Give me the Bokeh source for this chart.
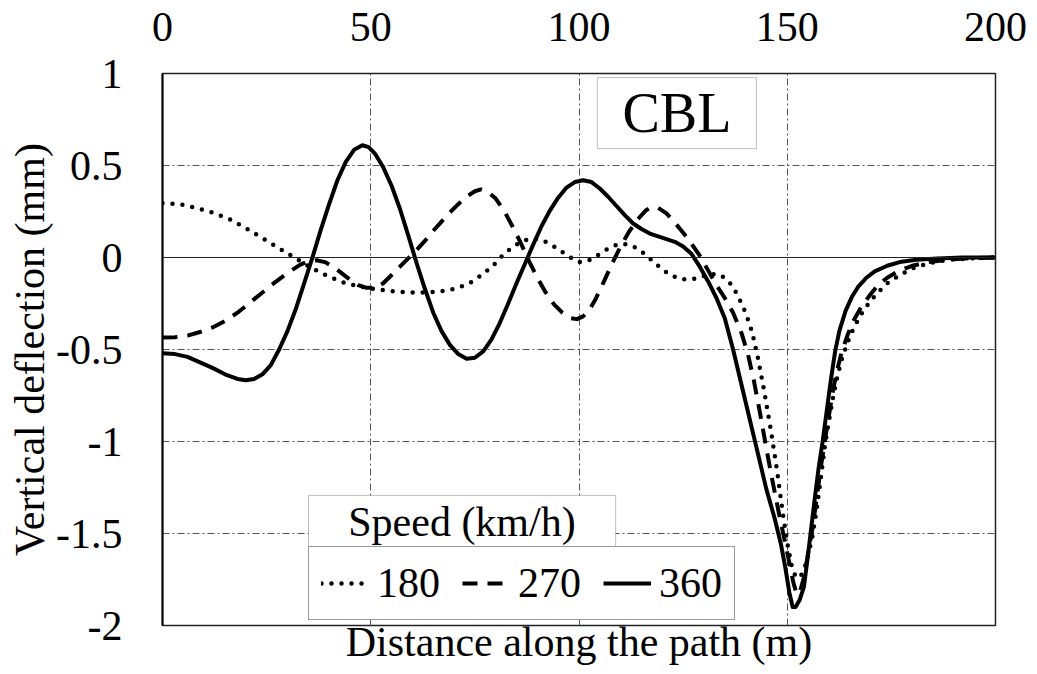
from bokeh.plotting import figure
from bokeh.models import (FixedTicker, LinearAxis, Span, Legend, LegendItem,
                          BoxAnnotation, Label, Range1d)
from bokeh.embed import file_html
from bokeh.resources import INLINE

# ---------------- data ----------------
x_360 = [0, 3, 6, 9, 12, 15, 18, 20, 22, 24, 26, 28, 30, 32, 34, 36, 38, 40, 42, 44, 46,
         48, 49.5, 51, 53, 55, 57, 59, 61, 63, 65, 67, 69, 71, 73, 75, 77, 79, 81, 83,
         85, 87, 89, 91, 93, 95, 97, 99, 101, 103, 105, 107, 109, 111, 113, 115, 117,
         119, 121, 123, 125, 127, 129, 131, 133, 135, 137, 139, 141, 143, 145, 147,
         148.5, 149.5, 150.5, 151.3, 152, 153, 154, 154.8, 155.6, 156.5, 157.5, 158.5,
         159.5, 160.5, 161.5, 162.5, 164, 165.5, 167, 169, 171, 174, 177, 181, 186, 192,
         200]
y_360 = [-0.52, -0.525, -0.54, -0.57, -0.60, -0.635, -0.66, -0.667, -0.66, -0.635,
         -0.585, -0.50, -0.40, -0.28, -0.14, 0.0, 0.15, 0.29, 0.42, 0.52, 0.585, 0.61,
         0.60, 0.565, 0.49, 0.39, 0.265, 0.12, -0.03, -0.17, -0.30, -0.40, -0.475,
         -0.525, -0.55, -0.545, -0.51, -0.445, -0.355, -0.25, -0.14, -0.035, 0.07, 0.17,
         0.255, 0.325, 0.38, 0.41, 0.42, 0.41, 0.375, 0.33, 0.28, 0.23, 0.185, 0.155,
         0.13, 0.115, 0.10, 0.085, 0.06, 0.02, -0.05, -0.13, -0.22, -0.33, -0.50, -0.69,
         -0.88, -1.07, -1.26, -1.42, -1.56, -1.68, -1.82, -1.90, -1.90, -1.86, -1.79,
         -1.65, -1.50, -1.33, -1.15, -1.0, -0.83, -0.66, -0.51, -0.40, -0.29, -0.215,
         -0.16, -0.11, -0.075, -0.045, -0.025, -0.012, -0.005, 0.0, 0.0]

x_270 = [0, 3, 6, 9, 12, 15, 18, 21, 24, 27, 30, 33, 35, 37, 39, 41, 43, 45, 47, 49, 51,
         53, 55, 57, 59, 61, 63, 65, 67, 69, 71, 73, 75, 76.5, 78, 80, 82, 84, 86, 88,
         90, 92, 94, 96, 98, 99.5, 101, 102.5, 104, 106, 108, 110, 112, 114, 116, 117.5,
         119, 121, 123, 125, 127, 129, 131, 133, 135, 137, 139, 140.5, 142, 143.5, 145,
         146.5, 148, 149.5, 150.5, 151.5, 152.3, 153, 154, 155, 156, 157, 158, 159, 160,
         161, 162, 163, 164.5, 166, 168, 170, 172, 174, 177, 180, 184, 189, 195, 200]
y_270 = [-0.435, -0.433, -0.425, -0.405, -0.38, -0.345, -0.30, -0.245, -0.19, -0.135,
         -0.085, -0.04, -0.02, -0.015, -0.025, -0.05, -0.085, -0.12, -0.15, -0.165,
         -0.165, -0.14, -0.095, -0.05, -0.005, 0.04, 0.09, 0.145, 0.195, 0.245, 0.29,
         0.33, 0.36, 0.37, 0.36, 0.32, 0.255, 0.17, 0.08, -0.02, -0.11, -0.19, -0.255,
         -0.30, -0.33, -0.335, -0.32, -0.285, -0.225, -0.13, -0.03, 0.06, 0.14, 0.205,
         0.255, 0.275, 0.27, 0.24, 0.19, 0.135, 0.075, 0.01, -0.07, -0.15, -0.22, -0.30,
         -0.41, -0.52, -0.67, -0.85, -1.04, -1.22, -1.39, -1.55, -1.66, -1.77, -1.83,
         -1.82, -1.74, -1.61, -1.48, -1.32, -1.15, -1.0, -0.86, -0.72, -0.61, -0.52,
         -0.42, -0.34, -0.26, -0.20, -0.145, -0.11, -0.07, -0.045, -0.025, -0.01,
         -0.003, 0.0]

x_180 = [0, 4, 8, 12, 16, 20, 24, 28, 32, 36, 40, 44, 48, 52, 56, 60, 64, 68, 71, 74,
         77, 80, 82, 84, 86, 88, 90, 92, 94, 96, 98, 100, 102, 104, 106, 108, 110, 112,
         114, 116, 118, 120, 122, 124, 126, 128, 130, 132, 134, 136, 138, 140, 141.5,
         143, 144.5, 146, 147.5, 149, 150, 151, 152, 153, 154, 155, 156, 157, 158, 159,
         160, 161, 162, 163, 164.5, 166, 168, 170, 172, 174, 177, 180, 184, 189, 195, 200]
y_180 = [0.295, 0.29, 0.27, 0.245, 0.21, 0.16, 0.105, 0.05, -0.005, -0.06, -0.105,
         -0.14, -0.16, -0.175, -0.185, -0.19, -0.19, -0.18, -0.165, -0.135, -0.09,
         -0.03, 0.02, 0.055, 0.085, 0.10, 0.10, 0.085, 0.06, 0.03, 0.0, -0.025, -0.02,
         0.005, 0.035, 0.06, 0.075, 0.07, 0.05, 0.015, -0.025, -0.065, -0.095, -0.115,
         -0.12, -0.115, -0.10, -0.09, -0.095, -0.13, -0.20, -0.30, -0.40, -0.55, -0.73,
         -0.93, -1.15, -1.40, -1.55, -1.67, -1.735, -1.74, -1.70, -1.62, -1.52, -1.38,
         -1.21, -1.03, -0.89, -0.76, -0.65, -0.56, -0.46, -0.38, -0.30, -0.235, -0.185,
         -0.14, -0.095, -0.06, -0.03, -0.012, -0.004, 0.0]

speed_labels = ["180", "270", "360"]
x_ticks = [0, 50, 100, 150, 200]
y_ticks = [-2, -1.5, -1, -0.5, 0, 0.5, 1]
y_tick_labels = ["-2", "-1.5", "-1", "-0.5", "0", "0.5", "1"]
x_title = "Distance along the path (m)"
y_title = "Vertical deflection (mm)"
legend_title = "Speed (km/h)"
panel_tag = "CBL"

FONT = "'Liberation Serif', 'Times New Roman', serif"
FS = "42px"

p = figure(width=1037, height=674, x_range=Range1d(0, 200), y_range=Range1d(-2, 1),
           x_axis_location="above", output_backend="svg", toolbar_location=None,
           min_border_left=162, min_border_right=42, min_border_top=73,
           min_border_bottom=49)
p.background_fill_color = "white"
p.border_fill_color = "white"
p.outline_line_color = "#222222"
p.outline_line_width = 1.5

# top axis
top = p.xaxis[0]
top.ticker = FixedTicker(ticks=x_ticks)
top.major_label_text_font = FONT
top.major_label_text_font_size = FS
top.major_label_text_color = "black"
top.major_tick_line_color = None
top.minor_tick_line_color = None
top.major_tick_out = 0
top.axis_line_color = None
top.major_label_standoff = 33

# left axis
ya = p.yaxis[0]
ya.ticker = FixedTicker(ticks=y_ticks)
ya.major_label_overrides = {t: s for t, s in zip(y_ticks, y_tick_labels)}
ya.major_label_text_font = FONT
ya.major_label_text_font_size = FS
ya.major_label_text_color = "black"
ya.major_tick_line_color = None
ya.minor_tick_line_color = None
ya.major_tick_out = 0
ya.axis_line_color = "black"
ya.axis_line_width = 2
ya.major_label_standoff = 40
ya.axis_label = y_title
ya.axis_label_text_font = FONT
ya.axis_label_text_font_size = FS
ya.axis_label_text_font_style = "normal"
ya.axis_label_text_color = "black"
ya.axis_label_standoff = 0

# bottom axis carrying only the title
bottom = LinearAxis(ticker=FixedTicker(ticks=[]), axis_label=x_title)
bottom.axis_line_color = None
bottom.major_tick_line_color = None
bottom.minor_tick_line_color = None
bottom.major_label_text_font_size = "0px"
bottom.major_label_standoff = 0
bottom.major_tick_out = 0
bottom.axis_label_standoff = -7
bottom.axis_label_text_font = FONT
bottom.axis_label_text_font_size = FS
bottom.axis_label_text_font_style = "normal"
bottom.axis_label_text_color = "black"
p.add_layout(bottom, "below")

# grids
p.xgrid.ticker = FixedTicker(ticks=[50, 100, 150])
p.ygrid.ticker = FixedTicker(ticks=[-1.5, -1, -0.5, 0.5])
for g in (p.xgrid[0], p.ygrid[0]):
    g.grid_line_color = "#555555"
    g.grid_line_width = 1
    g.grid_line_dash = "7 3 2 3"
p.add_layout(Span(location=0, dimension="width", line_color="#222222", line_width=1))

# series
r180 = p.line(x_180, y_180, line_color="black", line_width=4.5, line_dash="0 10",
              line_cap="round", line_join="round")
r270 = p.line(x_270, y_270, line_color="black", line_width=4, line_dash="15 10",
              line_join="round")
r360 = p.line(x_360, y_360, line_color="black", line_width=4, line_join="round")

# CBL tag
p.add_layout(BoxAnnotation(left=104.4, right=142.6, top=0.978, bottom=0.592,
                           fill_color="white", fill_alpha=1, line_color="#333333",
                           line_width=1))
p.add_layout(Label(x=123.5, y=0.785, text=panel_tag, text_align="center",
                   text_baseline="middle", text_font=FONT, text_font_size="56px",
                   text_color="black"))

# legend title box
p.add_layout(BoxAnnotation(left=35.05, right=108.8, top=-1.293, bottom=-1.582,
                           fill_color="white", fill_alpha=1, line_color="#333333",
                           line_width=1))
p.add_layout(Label(x=71.9, y=-1.44, text=legend_title, text_align="center",
                   text_baseline="middle", text_font=FONT, text_font_size=FS,
                   text_color="black"))

legend = Legend(items=[LegendItem(label=speed_labels[0], renderers=[r180]),
                       LegendItem(label=speed_labels[1], renderers=[r270]),
                       LegendItem(label=speed_labels[2], renderers=[r360])],
                location=(146, 5), orientation="horizontal")
legend.border_line_color = "#333333"
legend.border_line_width = 1
legend.background_fill_color = "white"
legend.background_fill_alpha = 1
legend.label_text_font = FONT
legend.label_text_font_size = FS
legend.label_text_color = "black"
legend.glyph_width = 48
legend.label_standoff = 8
legend.spacing = 22
legend.padding = 12
legend.margin = 0
p.add_layout(legend)

open("out.html", "w").write(file_html(p, INLINE))
